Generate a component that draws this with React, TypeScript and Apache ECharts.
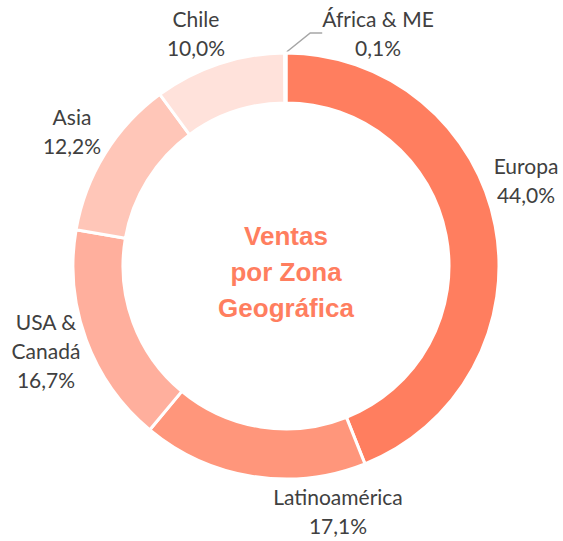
import React, { useEffect, useRef } from "react";
import * as echarts from "echarts";

const categories = ["Europa", "Latinoamérica", "USA & Canadá", "Asia", "Chile", "África & ME"];
const labelNames = ["Europa", "Latinoamérica", "USA &\nCanadá", "Asia", "Chile", "África & ME"];
const values = [44.0, 17.1, 16.7, 12.2, 10.0, 0.1];
const colors = ["#FF7E5F", "#FF967B", "#FFAF9D", "#FFC6B8", "#FFE2DB", "#FF7E5F"];
const centerTitle = "Ventas\npor Zona\nGeográfica";

// label anchor points (label centres) for the Excel-like "best fit" placement
const labelSpots: [number, number][] = [
  [526, 180],
  [338, 511],
  [46, 350],
  [72, 131],
  [196, 33],
  [378, 33],
];

export default function App() {
  const ref = useRef<HTMLDivElement>(null);
  useEffect(() => {
    document.body.style.margin = "0";
    const chart = echarts.init(ref.current!, null, { renderer: "svg" });
    const fmt = (v: number) => v.toFixed(1).replace(".", ",") + "%";
    chart.setOption({
      animation: false,
      backgroundColor: "#ffffff",
      graphic: [
        {
          type: "text",
          x: 286,
          y: 272,
          style: {
            text: centerTitle,
            fill: "#FF7E5F",
            font: "bold 26px 'Liberation Sans', Arial, sans-serif",
            lineHeight: 36,
            align: "center",
            verticalAlign: "middle",
          },
        },
      ],
      series: [
        {
          type: "pie",
          center: [286, 266],
          radius: [163, 213],
          startAngle: 90,
          clockwise: true,
          silent: true,
          avoidLabelOverlap: false,
          itemStyle: { borderColor: "#ffffff", borderWidth: 3 },
          label: {
            show: true,
            position: "outside",
            color: "#404040",
            fontFamily: "Lato, 'Open Sans', sans-serif",
            fontSize: 21,
            lineHeight: 29,
            align: "center",
          },
          labelLine: { show: false },
          labelLayout: (params: any) => {
            const s = labelSpots[params.dataIndex];
            return { x: s[0], y: s[1], align: "center", verticalAlign: "middle" };
          },
          data: categories.map((c, i) => ({
            name: c,
            value: values[i],
            itemStyle: { color: colors[i] },
            label: { formatter: labelNames[i] + "\n" + fmt(values[i]) },
            labelLine:
              i === 5
                ? { show: true, length: 20, length2: 12, lineStyle: { color: "#A6A6A6", width: 1.5 } }
                : { show: false },
          })),
        },
      ],
    });
    return () => chart.dispose();
  }, []);
  return <div ref={ref} style={{ width: 563, height: 541 }} />;
}
